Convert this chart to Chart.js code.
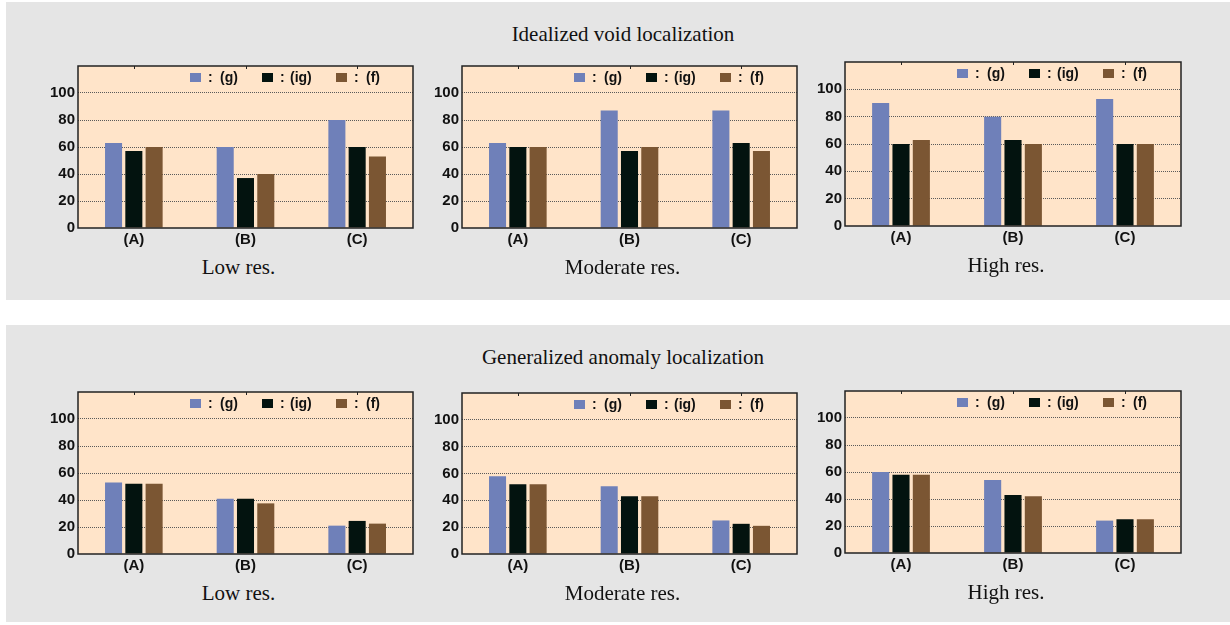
<!DOCTYPE html>
<html>
<head>
<meta charset="utf-8">
<script src="https://cdn.jsdelivr.net/npm/chart.js@4.4.1/dist/chart.umd.min.js"></script>
<style>
  body { margin: 0; width: 1230px; height: 625px; background: #fff; position: relative; overflow: hidden; }
  .panel { position: absolute; left: 6px; width: 1224px; background: #e5e5e5; }
  .title, .sub { position: absolute; font-family: "Liberation Serif", serif; font-size: 21px; line-height: 20px; color: #111; white-space: nowrap; transform: translateX(-50%); }
  canvas { position: absolute; }
</style>
</head>
<body>
<div class="panel" style="top:2px;height:298px"></div>
<div class="panel" style="top:325px;height:297px"></div>
<div class="title" style="left:623px;top:24px">Idealized void localization</div>
<div class="title" style="left:623px;top:347px">Generalized anomaly localization</div>

<script>
// Shared labels
const categories = ["(A)", "(B)", "(C)"];
const seriesLabels = ["(g)", "(ig)", "(f)"];
const seriesColors = ["#6f80b9", "#03130f", "#7b5633"];
const yTicks = [0, 20, 40, 60, 80, 100];

// Idealized void localization
const voidLowG = [63, 60, 80];
const voidLowIG = [57, 37, 60];
const voidLowF = [60, 40, 53];
const voidModG = [63, 87, 87];
const voidModIG = [60, 57, 63];
const voidModF = [60, 60, 57];
const voidHighG = [90, 80, 93];
const voidHighIG = [60, 63, 60];
const voidHighF = [63, 60, 60];

// Generalized anomaly localization
const anomLowG = [53, 41, 21];
const anomLowIG = [52, 41, 24.5];
const anomLowF = [52, 37.5, 22.5];
const anomModG = [58, 50.5, 25];
const anomModIG = [52, 43, 22.5];
const anomModF = [52, 43, 21];
const anomHighG = [60, 54, 24];
const anomHighIG = [58, 43, 25];
const anomHighF = [58, 42, 25];

// plot-area boxes: left, top, width, height
const boxes = [
  { l: 78, t: 60, w: 335, h: 168, sub: "Low res.", g: voidLowG, ig: voidLowIG, f: voidLowF },
  { l: 462, t: 60, w: 335, h: 168, sub: "Moderate res.", g: voidModG, ig: voidModIG, f: voidModF },
  { l: 845, t: 56, w: 336, h: 170, sub: "High res.", g: voidHighG, ig: voidHighIG, f: voidHighF },
  { l: 78, t: 386, w: 335, h: 168, sub: "Low res.", g: anomLowG, ig: anomLowIG, f: anomLowF },
  { l: 462, t: 387, w: 335, h: 167, sub: "Moderate res.", g: anomModG, ig: anomModIG, f: anomModF },
  { l: 845, t: 385, w: 336, h: 168, sub: "High res.", g: anomHighG, ig: anomHighIG, f: anomHighF }
];

const padL = 48, padT = 6, padR = 8, padB = 24;
const tickFont = { family: "Liberation Sans", weight: "bold", size: 15 };

// background, frame, top ticks and the in-plot legend
const framePlugin = {
  id: "frame",
  beforeDraw(chart) {
    const a = chart.chartArea, c = chart.ctx;
    c.save();
    c.fillStyle = "#ffe4c9";
    c.fillRect(a.left, a.top, a.right - a.left, a.bottom - a.top);
    c.restore();
  },
  afterDraw(chart) {
    const a = chart.chartArea, c = chart.ctx;
    c.save();
    c.strokeStyle = "#222";
    c.lineWidth = 1.5;
    c.strokeRect(a.left, a.top, a.right - a.left, a.bottom - a.top);
    // small ticks on the top edge
    const xs = chart.scales.x;
    c.lineWidth = 1;
    categories.forEach((_, i) => {
      const x = Math.round(xs.getPixelForValue(i)) + 0.5;
      c.beginPath();
      c.moveTo(x, a.top);
      c.lineTo(x, a.top + 3);
      c.stroke();
    });
    // legend
    const offs = [0, 72, 146];
    const labX = [30, 28, 30];
    c.font = 'bold 14px "Liberation Sans"';
    c.textBaseline = "middle";
    chart.data.datasets.forEach((ds, i) => {
      const x = a.left + 112 + offs[i], y = a.top + 7;
      c.fillStyle = ds.backgroundColor;
      c.fillRect(x, y, 11, 9);
      c.fillStyle = "#111";
      c.fillText(":", x + 18, y + 5);
      c.fillText(ds.label, x + labX[i], y + 5);
    });
    c.restore();
  }
};

boxes.forEach((b) => {
  const cv = document.createElement("canvas");
  const W = padL + b.w + padR, H = padT + b.h + padB;
  cv.width = W; cv.height = H;
  cv.style.left = (b.l - padL) + "px";
  cv.style.top = (b.t - padT) + "px";
  cv.style.width = W + "px";
  cv.style.height = H + "px";
  document.body.appendChild(cv);

  const sub = document.createElement("div");
  sub.className = "sub";
  sub.textContent = b.sub;
  sub.style.left = (b.l + b.w / 2 - 7) + "px";
  sub.style.top = (b.t + b.h + 29) + "px";
  document.body.appendChild(sub);

  const vals = [b.g, b.ig, b.f];
  new Chart(cv.getContext("2d"), {
    type: "bar",
    data: {
      labels: categories,
      datasets: seriesLabels.map((lab, i) => ({
        label: lab,
        data: vals[i],
        backgroundColor: seriesColors[i],
        borderWidth: 0,
        categoryPercentage: 0.545,
        barPercentage: 0.84
      }))
    },
    options: {
      responsive: false,
      animation: false,
      layout: { padding: { top: padT, right: padR, left: 0, bottom: 0 } },
      plugins: { legend: { display: false }, tooltip: { enabled: false } },
      scales: {
        x: {
          grid: { display: false, drawTicks: false },
          border: { display: false },
          ticks: { color: "#111", font: tickFont, padding: 3 },
          afterFit(s) { s.height = padB; }
        },
        y: {
          min: 0,
          max: 120,
          afterBuildTicks(s) { s.ticks = yTicks.concat([120]).map(v => ({ value: v })); },
          grid: {
            drawTicks: false,
            lineWidth: 1,
            color: (ctx) => (ctx.tick && ctx.tick.value > 0 && ctx.tick.value < 120) ? "#5a5a5a" : "rgba(0,0,0,0)"
          },
          border: { display: false, dash: [1, 1] },
          ticks: {
            color: "#111",
            font: tickFont,
            padding: 3,
            callback: (v) => (v > 100 ? "" : v)
          },
          afterFit(s) { s.width = padL; }
        }
      }
    },
    plugins: [framePlugin]
  });
});
</script>
</body>
</html>
